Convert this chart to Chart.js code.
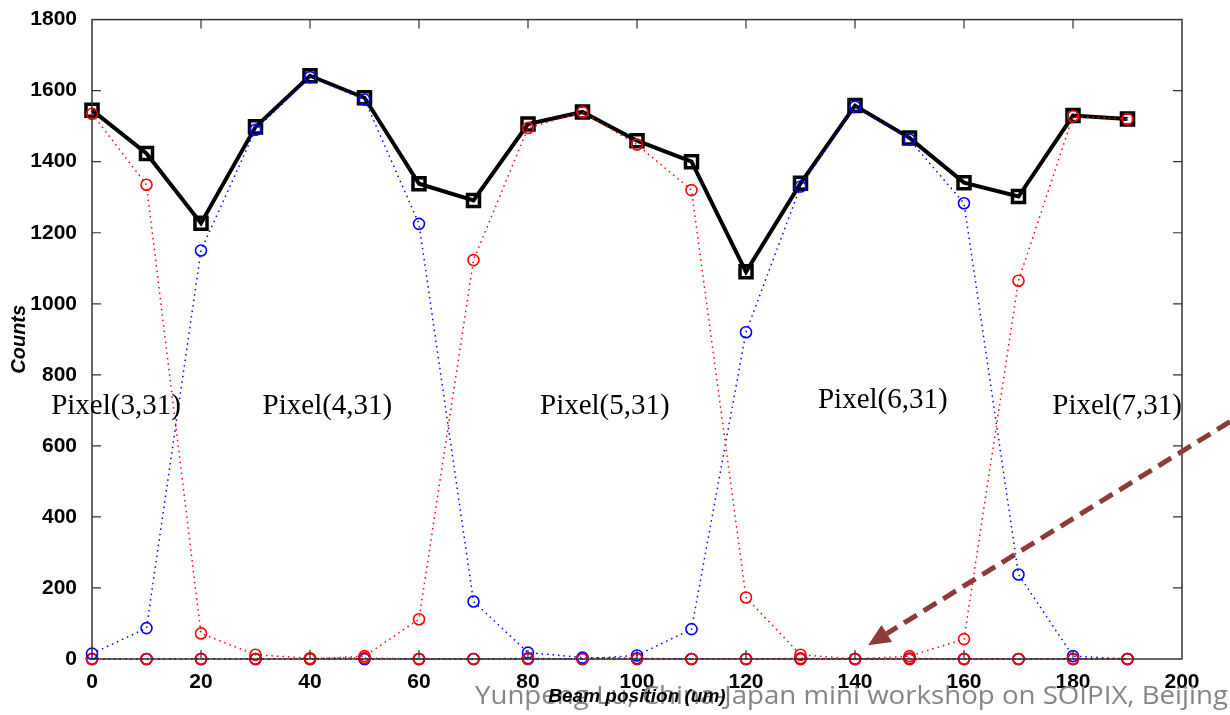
<!DOCTYPE html>
<html>
<head>
<meta charset="utf-8">
<script src="https://cdn.jsdelivr.net/npm/chart.js@4/dist/chart.umd.min.js"></script>
<style>
    body { margin: 0; background: #fff; }
    canvas { display: block; }
</style>
</head>
<body>
<canvas id="myChart" width="1230" height="715"></canvas>
<script>
// beam positions (um)
const positions = [0, 10, 20, 30, 40, 50, 60, 70, 80, 90, 100, 110, 120, 130, 140, 150, 160, 170, 180, 190];

// counts per pixel
const pixel3 = [1535, 1335, 72, 12, 2, 3, 0, 0, 0, 0, 0, 0, 0, 0, 0, 0, 0, 0, 0, 0];
const pixel4 = [15, 87, 1150, 1490, 1638, 1575, 1225, 162, 18, 4, 2, 0, 0, 0, 0, 0, 0, 0, 0, 0];
const pixel5 = [0, 0, 0, 0, 0, 8, 112, 1123, 1495, 1540, 1448, 1320, 173, 12, 0, 2, 0, 0, 0, 0];
const pixel6 = [0, 0, 0, 0, 0, 0, 0, 0, 2, 0, 10, 84, 920, 1330, 1555, 1462, 1283, 238, 8, 0];
const pixel7 = [0, 0, 0, 0, 0, 0, 0, 0, 0, 0, 0, 0, 0, 2, 0, 8, 56, 1065, 1528, 1520];
const total  = [1545, 1423, 1227, 1498, 1642, 1580, 1338, 1291, 1506, 1540, 1459, 1400, 1090, 1339, 1558, 1467, 1341, 1302, 1530, 1520];

const xTicks = [0, 20, 40, 60, 80, 100, 120, 140, 160, 180, 200];
const yTicks = [0, 200, 400, 600, 800, 1000, 1200, 1400, 1600, 1800];

// pixel name labels (data coordinates)
const pixelNames = ['Pixel(3,31)', 'Pixel(4,31)', 'Pixel(5,31)', 'Pixel(6,31)', 'Pixel(7,31)'];
const pixelNameX = [4.4, 43.2, 94.1, 145.1, 188.1];
const pixelNameY = [710, 710, 710, 729, 710];

// arrow from outside the box down to x=140
const arrowFrom = [208.8, 668];
const arrowTo = [142.4, 39];

function toPoints(values) {
    return values.map((v, i) => ({ x: positions[i], y: v }));
}

function pixelSet(label, values, color) {
    return {
        label: label,
        data: toPoints(values),
        borderColor: color,
        backgroundColor: 'rgba(0,0,0,0)',
        borderWidth: 1.5,
        borderDash: [1.5, 4],
        pointStyle: 'circle',
        pointRadius: 5.5,
        pointBorderWidth: 1.6,
        pointBorderColor: color,
        pointBackgroundColor: 'rgba(0,0,0,0)',
        tension: 0,
        clip: 12,
        order: 1
    };
}

const boxPlugin = {
    id: 'box',
    afterDraw(chart) {
        const ctx = chart.ctx;
        const a = chart.chartArea;
        const xs = chart.scales.x;
        const ys = chart.scales.y;
        ctx.save();

        // frame + inward ticks like matlab
        ctx.strokeStyle = '#333';
        ctx.lineWidth = 1.5;
        ctx.strokeRect(a.left, a.top, a.right - a.left, a.bottom - a.top);
        ctx.lineWidth = 1.2;
        ctx.beginPath();
        xTicks.slice(1, -1).forEach(t => {
            const px = xs.getPixelForValue(t);
            ctx.moveTo(px, a.bottom); ctx.lineTo(px, a.bottom - 9);
            ctx.moveTo(px, a.top); ctx.lineTo(px, a.top + 9);
        });
        yTicks.slice(1, -1).forEach(t => {
            const py = ys.getPixelForValue(t);
            ctx.moveTo(a.left, py); ctx.lineTo(a.left + 9, py);
            ctx.moveTo(a.right, py); ctx.lineTo(a.right - 9, py);
        });
        ctx.stroke();

        // pixel names
        ctx.fillStyle = '#000';
        ctx.font = '29px "Liberation Serif"';
        ctx.textAlign = 'center';
        ctx.textBaseline = 'middle';
        pixelNames.forEach((name, i) => {
            ctx.fillText(name, xs.getPixelForValue(pixelNameX[i]), ys.getPixelForValue(pixelNameY[i]));
        });

        // arrow
        const x0 = xs.getPixelForValue(arrowFrom[0]), y0 = ys.getPixelForValue(arrowFrom[1]);
        const x1 = xs.getPixelForValue(arrowTo[0]), y1 = ys.getPixelForValue(arrowTo[1]);
        const ang = Math.atan2(y1 - y0, x1 - x0);
        const headLen = 22, headW = 10;
        const bx = x1 - headLen * Math.cos(ang), by = y1 - headLen * Math.sin(ang);
        ctx.strokeStyle = '#8c3b38';
        ctx.fillStyle = '#8c3b38';
        ctx.lineWidth = 5;
        ctx.setLineDash([15, 8]);
        ctx.beginPath();
        ctx.moveTo(x0, y0);
        ctx.lineTo(bx, by);
        ctx.stroke();
        ctx.setLineDash([]);
        ctx.beginPath();
        ctx.moveTo(x1, y1);
        ctx.lineTo(bx + headW * Math.sin(ang), by - headW * Math.cos(ang));
        ctx.lineTo(bx - headW * Math.sin(ang), by + headW * Math.cos(ang));
        ctx.closePath();
        ctx.fill();

        // y axis title
        ctx.fillStyle = '#000';
        ctx.font = 'italic bold 20px "Liberation Sans"';
        ctx.save();
        ctx.translate(19, (a.top + a.bottom) / 2);
        ctx.rotate(-Math.PI / 2);
        ctx.fillText('Counts', 0, 0);
        ctx.restore();

        // footer
        const footer = 'Yunpeng Lu, China-Japan mini workshop on SOIPIX, Beijing';
        ctx.font = '26px "Open Sans"';
        ctx.fillStyle = '#858585';
        ctx.textAlign = 'left';
        ctx.textBaseline = 'alphabetic';
        const fw = ctx.measureText(footer).width;
        ctx.save();
        ctx.translate(475, 704);
        ctx.scale(753 / fw, 1);
        ctx.fillText(footer, 0, 0);
        ctx.restore();

        // x axis title
        ctx.fillStyle = '#000';
        ctx.font = 'italic bold 19px "Liberation Sans"';
        ctx.textAlign = 'center';
        ctx.fillText('Beam position (um)', (a.left + a.right) / 2, 702);

        ctx.restore();
    }
};

const tickFont = { family: 'Liberation Sans', size: 21, weight: 'bold' };

const ctx = document.getElementById('myChart').getContext('2d');
const myChart = new Chart(ctx, {
    type: 'line',
    data: {
        datasets: [
            {
                label: 'Sum',
                data: toPoints(total),
                borderColor: '#000',
                backgroundColor: 'rgba(0,0,0,0)',
                borderWidth: 4,
                pointStyle: 'rect',
                pointRadius: 8.5,
                pointBorderWidth: 3.5,
                pointBorderColor: '#000',
                pointBackgroundColor: 'rgba(0,0,0,0)',
                tension: 0,
                clip: 12,
                order: 10
            },
            pixelSet('Pixel(3,31)', pixel3, '#ff0000'),
            pixelSet('Pixel(4,31)', pixel4, '#0000ff'),
            pixelSet('Pixel(5,31)', pixel5, '#ff0000'),
            pixelSet('Pixel(6,31)', pixel6, '#0000ff'),
            pixelSet('Pixel(7,31)', pixel7, '#ff0000')
        ]
    },
    options: {
        responsive: false,
        animation: false,
        devicePixelRatio: 1,
        layout: { padding: { top: 15, right: 48, left: 0, bottom: 0 } },
        plugins: {
            legend: { display: false },
            tooltip: { enabled: false }
        },
        scales: {
            x: {
                type: 'linear',
                min: 0,
                max: 200,
                afterBuildTicks: (scale) => { scale.ticks = xTicks.map(v => ({ value: v })); },
                afterFit: (scale) => { scale.height = 56; },
                grid: { display: false },
                border: { display: false },
                ticks: {
                    padding: 3,
                    color: '#000',
                    font: tickFont,
                    callback: (v) => String(v)
                }
            },
            y: {
                min: 0,
                max: 1800,
                afterBuildTicks: (scale) => { scale.ticks = yTicks.map(v => ({ value: v })); },
                afterFit: (scale) => { scale.width = 92; },
                grid: { display: false },
                border: { display: false },
                ticks: {
                    padding: 7,
                    color: '#000',
                    font: tickFont,
                    callback: (v) => String(v)
                }
            }
        }
    },
    plugins: [boxPlugin]
});
</script>
</body>
</html>
